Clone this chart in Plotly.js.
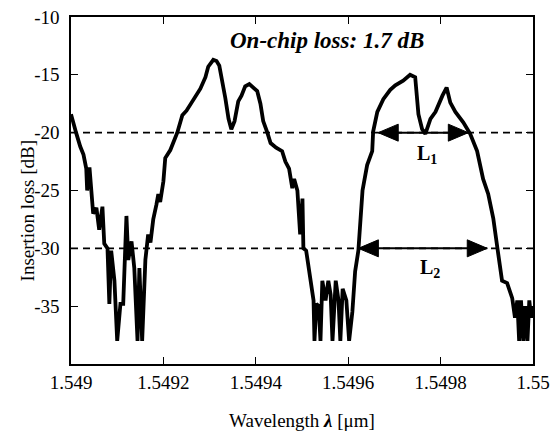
<!DOCTYPE html>
<html><head><meta charset="utf-8">
<script src="https://cdn.plot.ly/plotly-3.0.1.min.js"></script>
<style>html,body{margin:0;padding:0;background:#fff}#chart{width:552px;height:431px}</style>
</head><body><div id="chart"></div>
<script>
const wavelength = [
1.549000,1.549005,1.549011,1.549020,1.549027,1.549033,1.549035,1.549040,1.549044,1.549048,
1.549055,1.549061,1.549068,1.549072,1.549079,1.549081,1.549083,1.549087,1.549094,1.549100,
1.549107,1.549113,1.549120,1.549124,1.549131,1.549137,1.549144,1.549148,1.549154,1.549161,
1.549167,1.549172,1.549178,1.549185,1.549189,1.549193,1.549200,1.549204,1.549215,1.549230,
1.549241,1.549250,1.549258,1.549269,1.549280,1.549291,1.549297,1.549308,1.549315,1.549321,
1.549328,1.549334,1.549341,1.549347,1.549354,1.549362,1.549369,1.549377,1.549386,1.549395,
1.549403,1.549410,1.549416,1.549425,1.549432,1.549444,1.549457,1.549464,1.549472,1.549479,
1.549483,1.549490,1.549496,1.549501,1.549503,1.549509,1.549518,1.549525,1.549527,1.549531,
1.549536,1.549540,1.549544,1.549551,1.549557,1.549562,1.549566,1.549573,1.549579,1.549583,
1.549588,1.549596,1.549602,1.549609,1.549615,1.549622,1.549631,1.549641,1.549652,1.549654,
1.549663,1.549676,1.549691,1.549702,1.549719,1.549734,1.549745,1.549752,1.549760,1.549767,
1.549778,1.549789,1.549804,1.549813,1.549821,1.549832,1.549849,1.549864,1.549879,1.549892,
1.549903,1.549914,1.549923,1.549933,1.549944,1.549955,1.549961,1.549966,1.549970,1.549974,
1.549979,1.549983,1.549988,1.549992,1.549996,1.550000];
const insertionLoss = [
-18.4,-19.3,-20.0,-21.2,-21.9,-23.1,-25.0,-23.0,-25.5,-27.0,
-26.5,-28.4,-26.4,-29.6,-30.0,-32.2,-34.8,-30.2,-32.8,-38.0,
-34.8,-34.8,-27.2,-31.0,-29.4,-31.7,-38.0,-31.7,-38.0,-31.0,
-28.8,-29.5,-27.5,-26.2,-25.3,-26.0,-24.2,-22.2,-21.5,-20.0,
-18.5,-18.1,-17.6,-17.0,-16.2,-15.2,-14.3,-13.7,-13.8,-14.2,
-15.5,-17.0,-18.8,-19.7,-19.0,-17.3,-16.8,-16.0,-15.8,-16.1,
-16.4,-17.5,-19.0,-20.0,-20.9,-21.3,-21.6,-22.5,-23.1,-24.8,
-24.0,-25.0,-28.8,-25.7,-30.0,-30.2,-32.6,-34.5,-38.0,-34.8,
-35.0,-38.0,-32.8,-34.5,-32.8,-34.0,-38.0,-32.8,-34.5,-38.0,
-33.5,-34.5,-38.0,-35.5,-32.0,-30.2,-25.0,-22.8,-21.6,-19.9,
-18.2,-17.1,-16.3,-15.9,-15.5,-15.0,-15.2,-18.4,-19.7,-20.1,
-18.8,-18.2,-16.8,-16.1,-17.4,-18.2,-19.1,-20.1,-21.6,-24.0,
-25.3,-27.4,-30.0,-32.8,-33.0,-34.3,-36.0,-34.5,-38.0,-34.5,
-38.0,-35.0,-38.0,-34.5,-36.0,-35.0];

const xTickVals = [1.549, 1.5492, 1.5494, 1.5496, 1.5498, 1.55];
const xTickText = ['1.549', '1.5492', '1.5494', '1.5496', '1.5498', '1.55'];
const yTickVals = [-10, -15, -20, -25, -30, -35];
const yTickText = ['-10', '-15', '-20', '-25', '-30', '-35'];
const xRange = [1.549, 1.55];
const yRange = [-40, -10];
const levels = [-20, -30];
const widthL1 = [1.549665, 1.549860];
const widthL2 = [1.549622, 1.549901];
const widthLabels = ['L<sub>1</sub>', 'L<sub>2</sub>'];
const labelX = [1.549771, 1.549778];
const labelY = [-21.9, -31.7];
const noteText = 'On-chip loss: 1.7 dB';
const xTitle = 'Wavelength <b><i>λ</i></b> [μm]';
const yTitle = 'Insertion loss [dB]';

const FONT = 'Liberation Serif, Times New Roman, serif';

const shapes = levels.map(v => ({
  type: 'line', xref: 'paper', x0: 0, x1: 1, yref: 'y', y0: v, y1: v,
  line: {color: '#000', width: 1.6, dash: '7px,5px'}
}));

// double-headed width markers: shaft + two pixel-sized filled heads
const HL = 20, HH = 8.5;
[[widthL1, levels[0]], [widthL2, levels[1]]].forEach(([w, lv]) => {
  shapes.push({
    type: 'line', xref: 'x', yref: 'y', x0: w[0], x1: w[1], y0: lv, y1: lv,
    line: {color: '#000', width: 2}
  });
  shapes.push({
    type: 'path', xref: 'x', yref: 'y', xsizemode: 'pixel', ysizemode: 'pixel',
    xanchor: w[0], yanchor: lv,
    path: `M0,0 L${HL},${HH} L${HL},${-HH} Z`,
    fillcolor: '#000', line: {color: '#000', width: 1}
  });
  shapes.push({
    type: 'path', xref: 'x', yref: 'y', xsizemode: 'pixel', ysizemode: 'pixel',
    xanchor: w[1], yanchor: lv,
    path: `M0,0 L${-HL},${HH} L${-HL},${-HH} Z`,
    fillcolor: '#000', line: {color: '#000', width: 1}
  });
});

const annotations = [];
widthLabels.forEach((t, i) => {
  annotations.push({
    x: labelX[i], y: labelY[i], xref: 'x', yref: 'y', showarrow: false,
    xanchor: 'center', yanchor: 'middle',
    text: '<b>' + t + '</b>', font: {family: FONT, size: 20, color: '#000'}
  });
});
annotations.push({
  xref: 'paper', yref: 'paper', x: 0.555, y: 0.932, showarrow: false,
  xanchor: 'center', yanchor: 'middle',
  text: '<b><i>' + noteText + '</i></b>', font: {family: FONT, size: 23, color: '#000'}
});
annotations.push({
  xref: 'paper', yref: 'paper', x: -0.095, y: 0.44, showarrow: false, textangle: -90,
  xanchor: 'center', yanchor: 'middle',
  text: yTitle, font: {family: FONT, size: 19, color: '#000'}
});

const trace = {
  x: wavelength, y: insertionLoss, type: 'scatter', mode: 'lines',
  line: {color: '#000', width: 3.8}, hoverinfo: 'skip'
};

const axisCommon = {
  showgrid: false, zeroline: false, showline: true, linecolor: '#000', linewidth: 1.6,
  mirror: 'ticks', ticks: 'inside', ticklen: 7, tickwidth: 1.3, tickcolor: '#000',
  tickfont: {family: FONT, size: 19, color: '#000'}
};

const layout = {
  width: 552, height: 431,
  margin: {l: 71, r: 19, t: 17, b: 67, pad: 0},
  paper_bgcolor: '#fff', plot_bgcolor: '#fff',
  showlegend: false,
  font: {family: FONT, color: '#000'},
  xaxis: Object.assign({}, axisCommon, {
    range: xRange, tickmode: 'array', tickvals: xTickVals, ticktext: xTickText,
    ticklabelstandoff: 1, automargin: false,
    title: {text: xTitle, font: {family: FONT, size: 19, color: '#000'}, standoff: 22}
  }),
  yaxis: Object.assign({}, axisCommon, {
    range: yRange, tickmode: 'array', tickvals: yTickVals, ticktext: yTickText,
    ticklabelstandoff: 6, automargin: false
  }),
  shapes: shapes,
  annotations: annotations
};

Plotly.newPlot('chart', [trace], layout, {staticPlot: true, displayModeBar: false});
</script>
</body></html>
